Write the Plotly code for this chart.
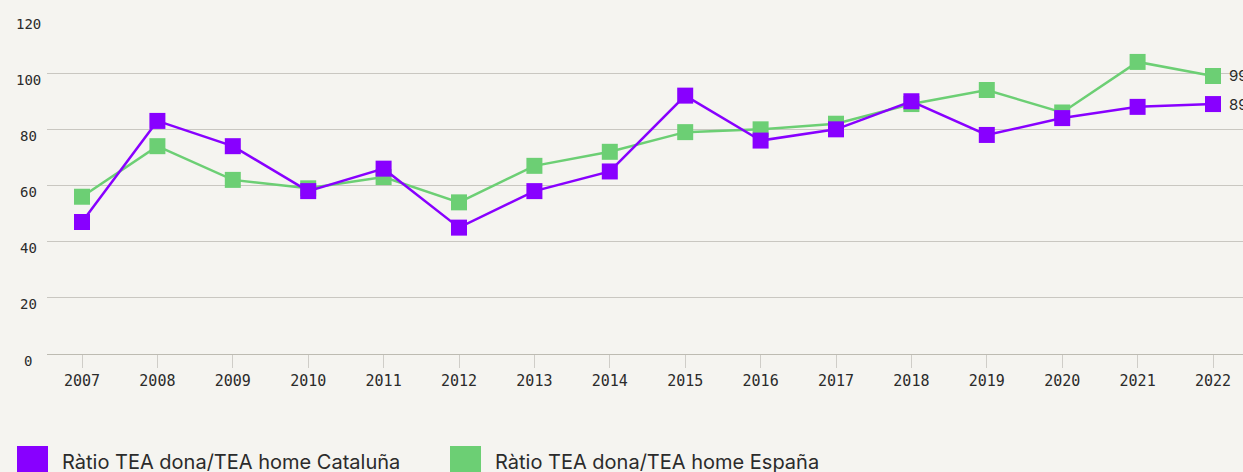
import plotly.graph_objects as go

years = list(range(2007, 2023))
cataluna = [47, 83, 74, 58, 66, 45, 58, 65, 92, 76, 80, 90, 78, 84, 88, 89]
espana = [56, 74, 62, 59, 63, 54, 67, 72, 79, 80, 82, 89, 94, 86, 104, 99]
y_ticks = [0, 20, 40, 60, 80, 100, 120]
series_names = ["Ràtio TEA dona/TEA home Cataluña", "Ràtio TEA dona/TEA home España"]

PURPLE = "#8800ff"
GREEN = "#6ccf74"
BG = "#f5f4f0"
TEXT = "#2b2b2b"

W, H = 1243, 472
L, R, T, B = 47, 0, 17, 118
plot_w = W - L - R
plot_h = H - T - B


def px_x(px):
    return (px - L) / plot_w


def px_y(py):
    return (H - B - py) / plot_h


fig = go.Figure()

# España first so that Cataluña sits on top
for vals, color, name in [(espana, GREEN, series_names[1]), (cataluna, PURPLE, series_names[0])]:
    fig.add_trace(go.Scatter(
        x=years, y=vals, mode="lines+markers", name=name,
        line=dict(color=color, width=2.5),
        marker=dict(symbol="square", size=16, color=color),
        cliponaxis=False, showlegend=False,
    ))
    # value label at the last year
    fig.add_annotation(x=years[-1], y=vals[-1], xref="x", yref="y",
                       text=str(vals[-1]), showarrow=False,
                       xanchor="left", yanchor="middle", xshift=14,
                       font=dict(family="Inter", size=15, color=TEXT))

# y tick labels, centred in the left gutter and sitting just below each gridline
for v in y_ticks:
    fig.add_annotation(x=px_x(28), y=v, xref="paper", yref="y",
                       text=str(v), showarrow=False,
                       xanchor="center", yanchor="middle", yshift=-6.5,
                       font=dict(family="DejaVu Sans Mono", size=14, color=TEXT))

# Legend drawn as big colour swatches with labels underneath the chart
legend_items = [(17, PURPLE, series_names[0]), (450, GREEN, series_names[1])]
for x0, color, label in legend_items:
    fig.add_shape(type="rect", xref="paper", yref="paper",
                  x0=px_x(x0), x1=px_x(x0 + 31), y0=px_y(446), y1=px_y(477),
                  fillcolor=color, line=dict(width=0), layer="above")
    fig.add_annotation(xref="paper", yref="paper", x=px_x(x0 + 43), y=px_y(462),
                       xanchor="left", yanchor="middle", showarrow=False,
                       text=label, font=dict(family="Inter", size=20, color=TEXT))

x_range = [2007 - 35 / 75.4, 2022 + 30 / 75.4]

fig.update_layout(
    width=W, height=H,
    margin=dict(l=L, r=R, t=T, b=B, pad=0),
    paper_bgcolor=BG, plot_bgcolor=BG,
    showlegend=False,
    xaxis=dict(
        range=x_range, tickmode="array", tickvals=years,
        ticktext=[str(y) for y in years],
        ticks="outside", ticklen=13, tickwidth=1, tickcolor="#cfcdc8",
        showgrid=False, zeroline=False,
        showline=True, linecolor="#bdbbb2", linewidth=1,
        tickfont=dict(family="DejaVu Sans Mono", size=15, color=TEXT),
        fixedrange=True,
    ),
    xaxis2=dict(
        overlaying="x", anchor="y", side="bottom", matches="x",
        range=x_range, tickmode="array", tickvals=years,
        ticks="inside", ticklen=11, tickwidth=1, tickcolor="#cfcdc8",
        showticklabels=False, showgrid=False, zeroline=False, showline=False,
    ),
    yaxis=dict(
        range=[0, 120], tickmode="array", tickvals=y_ticks,
        showgrid=True, gridcolor="#c9c7c1", gridwidth=1,
        zeroline=False, showline=False, ticks="", showticklabels=False,
        fixedrange=True,
    ),
)

fig.write_html("out.html")
